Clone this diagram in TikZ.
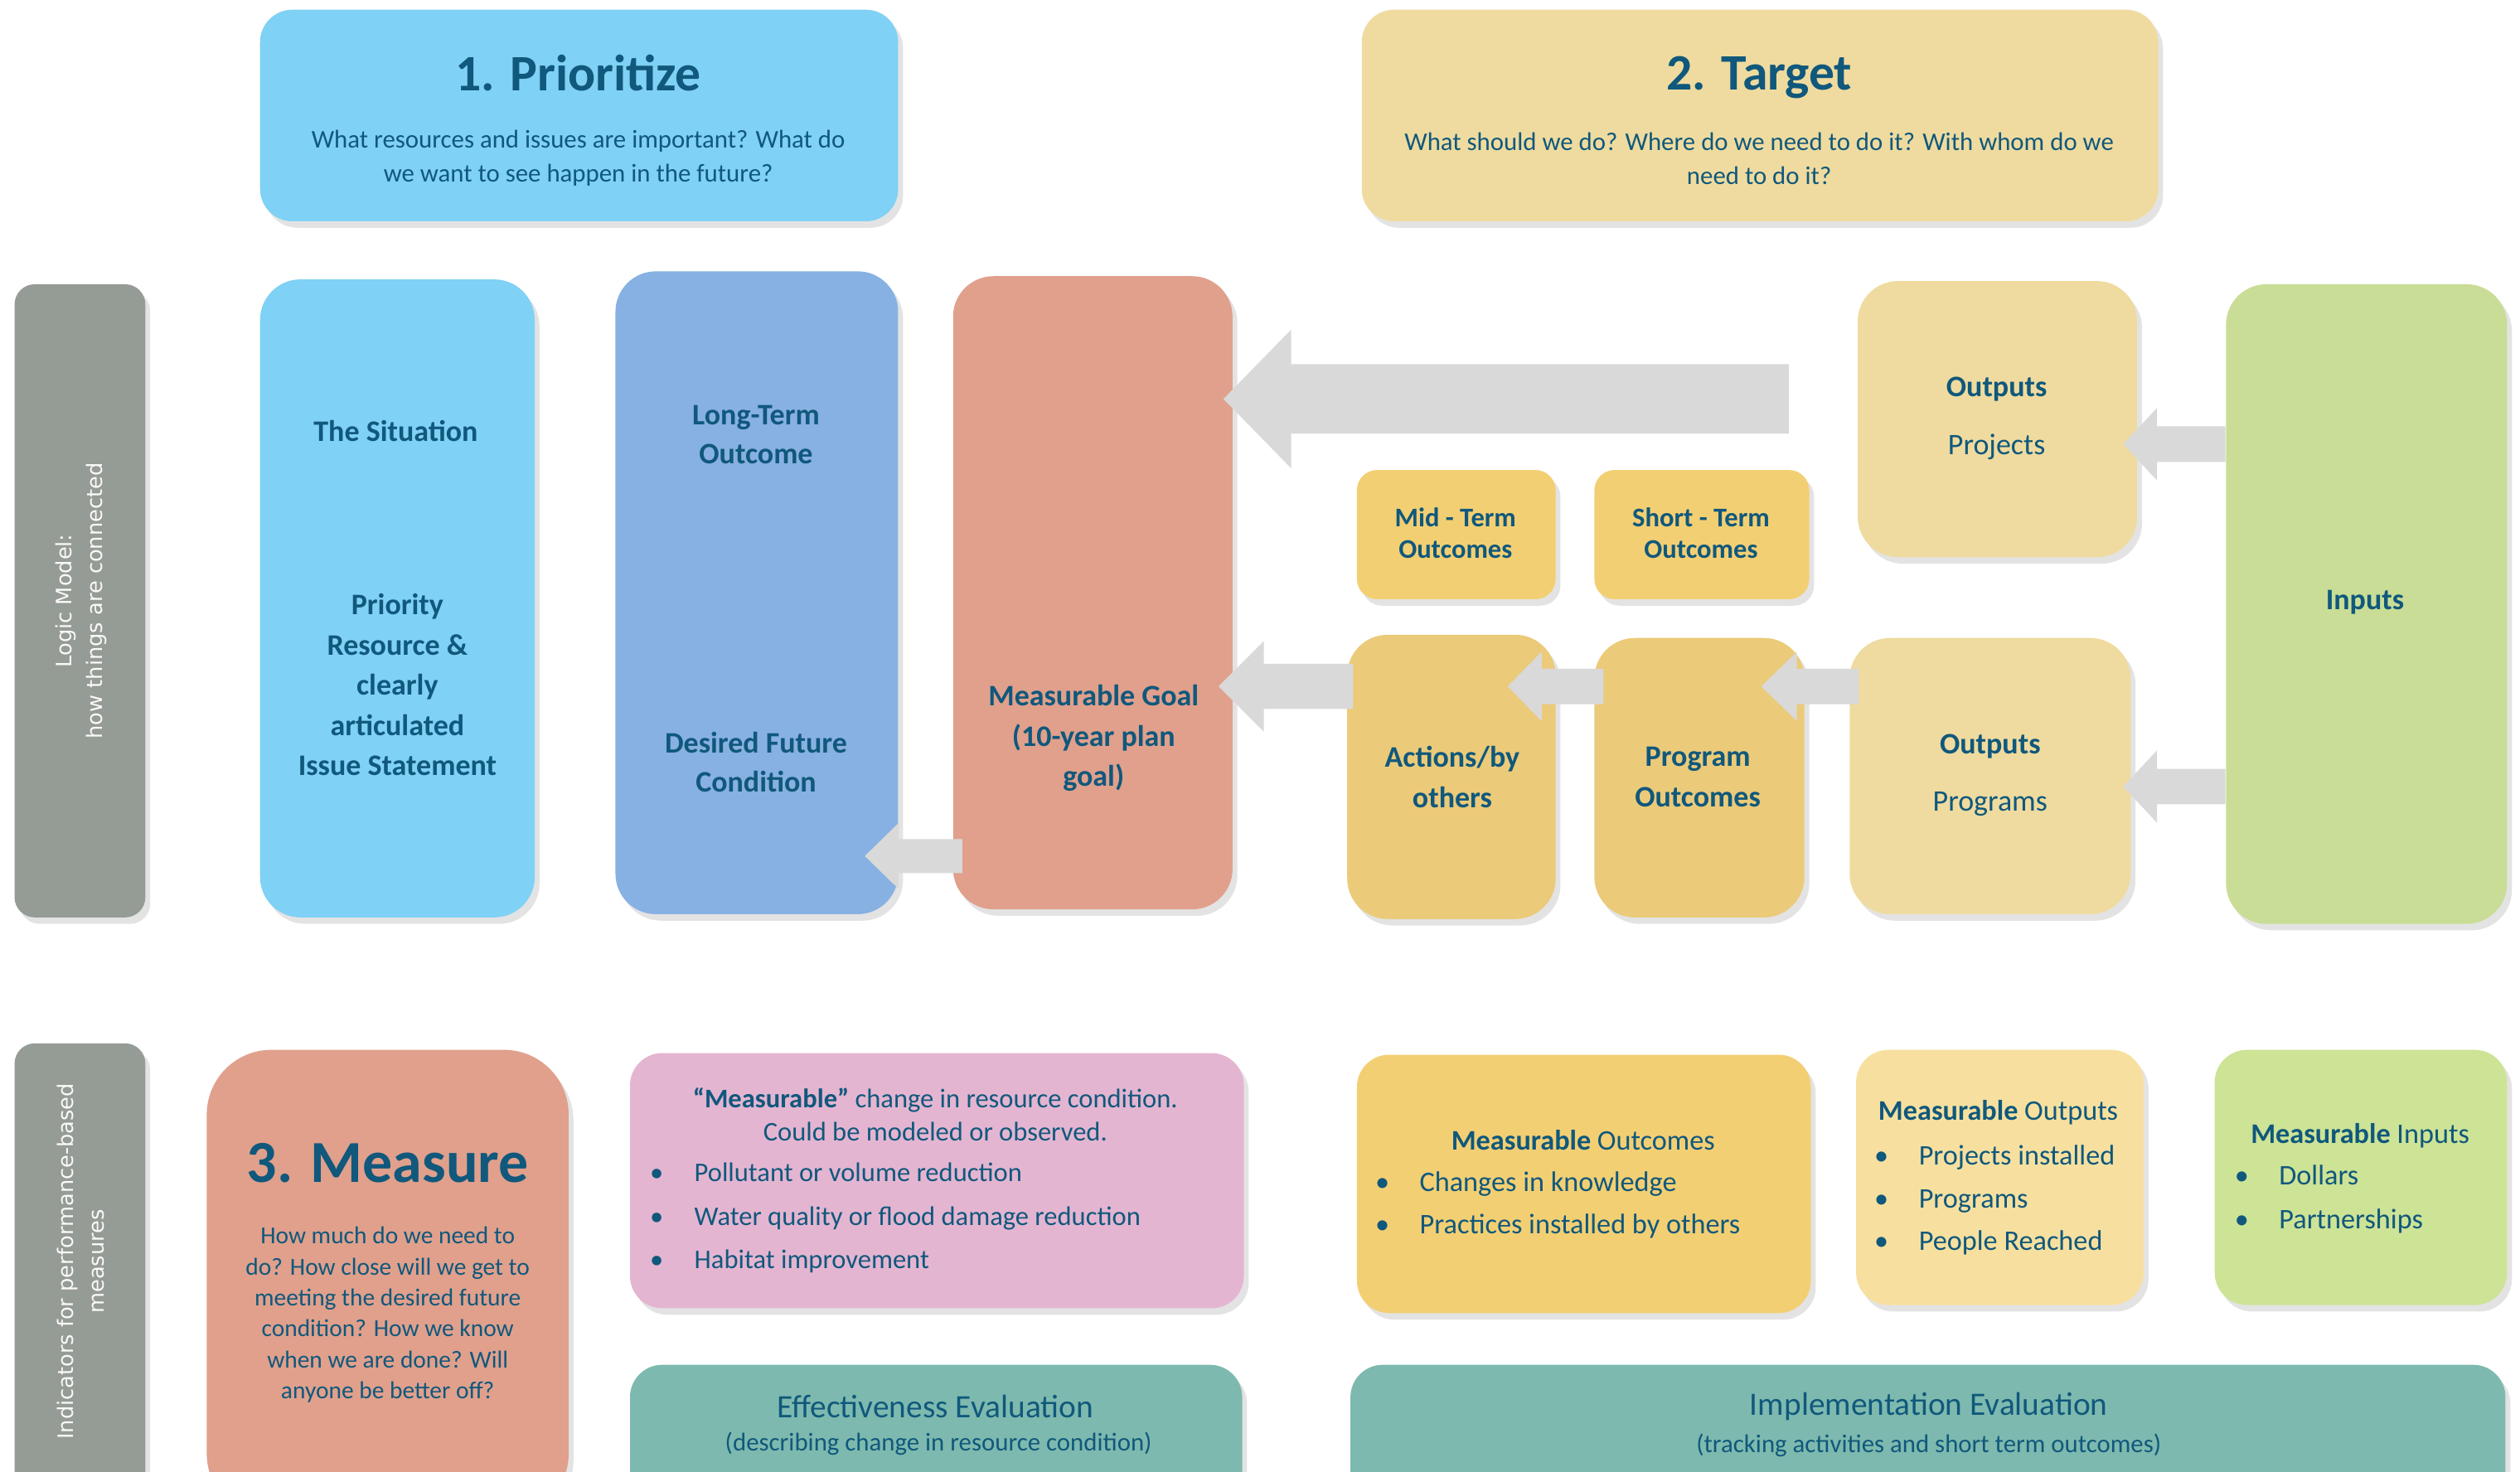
\documentclass[tikz,border=0pt]{standalone}
\usepackage{fontspec}
\setmainfont{Carlito}
\newfontfamily\sidefont{DejaVu Sans}
\usetikzlibrary{calc,fit,shadows}

\definecolor{txt}{HTML}{10587C}
\definecolor{skyblue}{HTML}{7FD1F5}
\definecolor{midblue}{HTML}{87B1E2}
\definecolor{salmon}{HTML}{E0A08C}
\definecolor{slate}{HTML}{959B95}
\definecolor{wheat}{HTML}{EFDB9F}
\definecolor{gold}{HTML}{F3CF73}
\definecolor{darkgold}{HTML}{EBCA79}
\definecolor{leaf}{HTML}{C9DD96}
\definecolor{paleleaf}{HTML}{CDE396}
\definecolor{paleyellow}{HTML}{F7E09F}
\definecolor{pinkish}{HTML}{E4B5D1}
\definecolor{evalteal}{HTML}{7DB9AE}
\definecolor{arrowgray}{HTML}{D9D9D9}

\newcommand{\pxl}{0.2mm}
\newcommand{\itm}[1]{\makebox[5.5mm][l]{\textbullet}#1}
% block arrow pointing left: tail, tip, shaft, head, head length (in px)
\newcommand{\fatarrow}[5]{%
  \fill[arrowgray] let \p1=(#1), \p2=(#2) in
    (\x1,{\y1+#3*\pxl/2}) -- ({\x2+#5*\pxl},{\y1+#3*\pxl/2}) -- ({\x2+#5*\pxl},{\y1+#4*\pxl/2})
    -- (\x2,\y1) -- ({\x2+#5*\pxl},{\y1-#4*\pxl/2}) -- ({\x2+#5*\pxl},{\y1-#3*\pxl/2})
    -- (\x1,{\y1-#3*\pxl/2}) -- cycle;}

\tikzset{
  box/.style={fill=#1, rounded corners=5mm, inner sep=0pt,
    drop shadow={shadow xshift=.6mm, shadow yshift=-.8mm, opacity=.22}},
  ttl/.style={text=txt, font=\fontsize{18}{22}\selectfont\bfseries},
  ask/.style={text=txt, align=center, font=\fontsize{9}{12}\selectfont},
  lbl/.style={text=txt, align=center, font=\fontsize{10.5}{14.2}\selectfont\bfseries},
  side/.style={text=white!94!slate, align=center, rotate=90, font=\sidefont\fontsize{7.5}{10.8}\selectfont},
  lst/.style 2 args={text=txt, align=left, anchor=west, inner sep=0pt, font=\fontsize{#1}{#2}\selectfont},
}

\begin{document}
\begin{tikzpicture}[x=0.2mm, y=-0.2mm]
\useasboundingbox (0,0) rectangle (1560,911);
\clip (0,0) rectangle (1560,911);

% top row
\node[box=skyblue, rounded corners=4mm, fit={(161,6) (556,137)}] (prio) {};
\node[box=wheat, rounded corners=4mm, fit={(843,6) (1336,137)}] (target) {};

% side bars
\node[box=slate, rounded corners=2.5mm, fit={(9,176) (90,568)}] (logic) {};
\node[box=slate, rounded corners=2.5mm, fit={(9,646) (90,940)}] (indic) {};

% logic model
\node[box=skyblue, fit={(161,173) (331,568)}] (situation) {};
\node[box=midblue, fit={(381,168) (556,566)}] (long) {};
\node[box=salmon, fit={(590,171) (763,563)}] (goal) {};
\node[box=gold, rounded corners=2.5mm, fit={(840,291) (963,371)}] (mid) {};
\node[box=gold, rounded corners=2.5mm, fit={(987,291) (1120,371)}] (short) {};
\node[box=wheat, fit={(1150,174) (1323,345)}] (projects) {};
\node[box=leaf, fit={(1378,176) (1552,572)}] (inputs) {};
\node[box=darkgold, fit={(834,393) (963,569)}] (actions) {};
\node[box=darkgold, fit={(987,395) (1117,568)}] (progout) {};
\node[box=wheat, fit={(1145,395) (1319,566)}] (programs) {};

% measures
\node[box=salmon, rounded corners=8mm, fit={(128,650) (352,940)}] (measure) {};
\node[box=pinkish, rounded corners=4mm, fit={(390,652) (770,810)}] (change) {};
\node[box=evalteal, rounded corners=4mm, fit={(390,845) (769,940)}] (effect) {};
\node[box=gold, rounded corners=4mm, fit={(840,653) (1121,813)}] (mOutcomes) {};
\node[box=paleyellow, rounded corners=4mm, fit={(1149,650) (1327,808)}] (mOutputs) {};
\node[box=paleleaf, rounded corners=4mm, fit={(1371,650) (1552,808)}] (mInputs) {};
\node[box=evalteal, rounded corners=4mm, fit={(836,845) (1551,940)}] (implement) {};

% arrows
\coordinate (rowT) at (0,247);
\coordinate (rowP) at (0,275);
\coordinate (rowM) at (0,425);
\coordinate (rowG) at (0,487);
\coordinate (rowD) at (0,530);
\fatarrow{$(short.east |- rowT)+(-13,0)$}{$(goal.east |- rowT)+(-6,0)$}{43}{86}{42}
\fatarrow{inputs.west |- rowP}{$(projects.east |- rowP)+(-9,0)$}{22}{45}{21}
\fatarrow{inputs.west |- rowG}{$(programs.east |- rowG)+(-5,0)$}{22}{45}{21}
\fatarrow{$(programs.west |- rowM)+(6,0)$}{$(progout.east |- rowM)+(-27,0)$}{22}{43}{22}
\fatarrow{$(progout.west |- rowM)+(6,0)$}{$(actions.east |- rowM)+(-30,0)$}{22}{43}{21}
\fatarrow{$(actions.west |- rowM)+(4,0)$}{$(goal.east |- rowM)+(-9,0)$}{28}{56}{28}
\fatarrow{$(goal.west |- rowD)+(6,0)$}{$(long.east |- rowD)+(-21,0)$}{21}{41}{21}

% texts
\node[ttl] (prioT) at (358,45) {1. Prioritize};
\node[ask] (prioQ) at (358,98) {What resources and issues are important? What do\\we want to see happen in the future?};
\node[ttl] (targetT) at (1089,48) {2. Target};
\node[ask] (targetQ) at (1089,98) {What should we do? Where do we need to do it? With whom do we\\need to do it?};

\node[side] (logicT) at (50,372) {Logic Model:\\how things are connected};
\node[side] (indicT) at (50,781) {Indicators for performance-based\\measures};

\node[lbl] (sitA) at (245,267) {The Situation};
\node[lbl] (sitB) at (246,424) {Priority\\Resource \&\\clearly\\articulated\\Issue Statement};
\node[lbl, font=\fontsize{10.5}{13.7}\selectfont\bfseries] (longA) at (468,269) {Long-Term\\Outcome};
\node[lbl, font=\fontsize{10.5}{13.7}\selectfont\bfseries] (longB) at (468,472) {Desired Future\\Condition};
\node[lbl] (goalT) at (677,457) {Measurable Goal\\(10-year plan\\goal)};
\node[lbl, font=\fontsize{9.5}{11.1}\selectfont\bfseries] (midT) at (901,330) {Mid - Term\\Outcomes};
\node[lbl, font=\fontsize{9.5}{11.1}\selectfont\bfseries] (shortT) at (1053,330) {Short - Term\\Outcomes};
\node[lbl, font=\fontsize{10.5}{20.5}\selectfont] (projT) at (1236,259) {\textbf{Outputs}\\Projects};
\node[lbl] (inputsT) at (1464,373) {Inputs};
\node[lbl] (actT) at (899,481) {Actions/by\\others};
\node[lbl] (progT) at (1051,481) {Program\\Outcomes};
\node[lbl, font=\fontsize{10.5}{20}\selectfont] (progrT) at (1232,480) {\textbf{Outputs}\\Programs};

\node[ttl, font=\fontsize{21}{25}\selectfont\bfseries] (measT) at (240,720) {3. Measure};
\node[ask, font=\fontsize{8.6}{10.9}\selectfont] (measQ) at (240,814) {How much do we need to\\do? How close will we get to\\meeting the desired future\\condition? How we know\\when we are done? Will\\anyone be better off?};
\node[ask, font=\fontsize{9.5}{11.4}\selectfont] (changeT) at (579,690) {\textbf{“Measurable”} change in resource condition.\\Could be modeled or observed.};
\node[lst={9.5}{15.4}] (changeL) at (402,754) {\itm{Pollutant or volume reduction}\\\itm{Water quality or flood damage reduction}\\\itm{Habitat improvement}};
\node[ask, font=\fontsize{11.5}{14}\selectfont] (effectT) at (579,871) {Effectiveness Evaluation};
\node[ask] (effectQ) at (581,894) {(describing change in resource condition)};

\node[ask, font=\fontsize{10}{12}\selectfont] (mOutcT) at (980,706) {\textbf{Measurable} Outcomes};
\node[lst={10}{14.8}] (mOutcL) at (851,746) {\itm{Changes in knowledge}\\\itm{Practices installed by others}};
\node[ask, font=\fontsize{10}{12}\selectfont] (mOutsT) at (1237,689) {\textbf{Measurable} Outputs};
\node[lst={10}{15.1}] (mOutsL) at (1160,743) {\itm{Projects installed}\\\itm{Programs}\\\itm{People Reached}};
\node[ask, font=\fontsize{10}{12}\selectfont] (mInsT) at (1461,703) {\textbf{Measurable} Inputs};
\node[lst={10}{15.4}] (mInsL) at (1383,742.5) {\itm{Dollars}\\\itm{Partnerships}};
\node[ask, font=\fontsize{11.5}{14}\selectfont] (implT) at (1194,871) {Implementation Evaluation};
\node[ask] (implQ) at (1194,895) {(tracking activities and short term outcomes)};
\end{tikzpicture}
\end{document}
